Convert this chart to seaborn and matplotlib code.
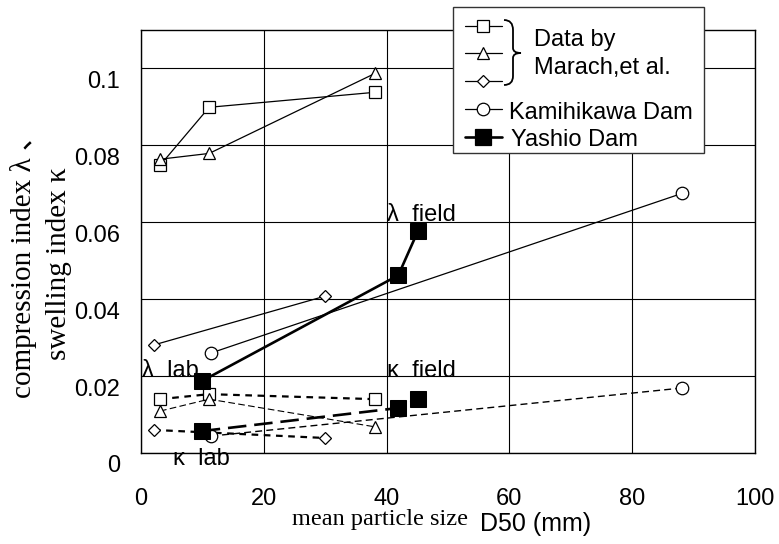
import numpy as np
import matplotlib
matplotlib.use('Agg')
import matplotlib.pyplot as plt
import matplotlib.transforms as mtransforms
from matplotlib.path import Path
from matplotlib.patches import PathPatch, Rectangle
from matplotlib.lines import Line2D
import seaborn as sns

# compression index (lambda) series
lam_sq_x = [3.1, 11.1, 38.1]
lam_sq_y = [0.0748, 0.0899, 0.0938]
lam_tri_x = [3.1, 11.1, 38.1]
lam_tri_y = [0.0764, 0.0779, 0.0987]
lam_dia_x = [2.1, 30.0]
lam_dia_y = [0.0281, 0.0408]
lam_kami_x = [11.4, 88.1]
lam_kami_y = [0.0260, 0.0675]
lam_yashio_x = [9.9, 41.9, 45.1]
lam_yashio_y = [0.0187, 0.0462, 0.0577]

# swelling index (kappa) series
kap_sq_x = [3.1, 11.1, 38.1]
kap_sq_y = [0.0140, 0.0153, 0.0140]
kap_tri_x = [3.1, 11.1, 38.1]
kap_tri_y = [0.0109, 0.0140, 0.0068]
kap_dia_x = [2.1, 30.0]
kap_dia_y = [0.0060, 0.0039]
kap_kami_x = [11.4, 88.1]
kap_kami_y = [0.0044, 0.0169]
kap_yashio_x = [9.9, 41.9, 45.1]
kap_yashio_y = [0.0057, 0.0117, 0.0140]

x_ticks = [0, 20, 40, 60, 80, 100]
y_ticks = [0, 0.02, 0.04, 0.06, 0.08, 0.1]
y_tick_labels = ['0', '0.02', '0.04', '0.06', '0.08', '0.1']

sns.set_style('white')
plt.rcParams['font.family'] = ['Liberation Sans', 'DejaVu Sans']
plt.rcParams['text.color'] = 'black'

fig = plt.figure(figsize=(7.79, 5.44), dpi=100)
ax = fig.add_axes([141 / 779, 1 - 453 / 544, 614 / 779, 423 / 544])

open_kw = dict(color='black', mfc='white', mec='black', mew=0.9, ax=ax)

# lambda - solid lines
sns.lineplot(x=lam_sq_x, y=lam_sq_y, marker='s', ms=9, lw=0.9, **open_kw)
sns.lineplot(x=lam_tri_x, y=lam_tri_y, marker='^', ms=9, lw=0.9, **open_kw)
sns.lineplot(x=lam_dia_x, y=lam_dia_y, marker='D', ms=6.5, lw=0.9, **open_kw)
sns.lineplot(x=lam_kami_x, y=lam_kami_y, marker='o', ms=9, lw=0.9, **open_kw)
sns.lineplot(x=lam_yashio_x, y=lam_yashio_y, marker='s', ms=12, lw=1.9,
             color='black', mfc='black', mec='black', ax=ax, zorder=5)

# kappa - dashed lines
sns.lineplot(x=kap_sq_x, y=kap_sq_y, marker='s', ms=9, lw=1.6,
             linestyle=(0, (3, 2.5)), **open_kw)
sns.lineplot(x=kap_tri_x, y=kap_tri_y, marker='^', ms=9, lw=0.8,
             linestyle=(0, (6, 3)), **open_kw)
sns.lineplot(x=kap_dia_x, y=kap_dia_y, marker='D', ms=6.5, lw=1.6,
             linestyle=(0, (3, 2.5)), **open_kw)
sns.lineplot(x=kap_kami_x, y=kap_kami_y, marker='o', ms=9, lw=1.0,
             linestyle=(0, (5, 3)), **open_kw)
sns.lineplot(x=kap_yashio_x, y=kap_yashio_y, marker='s', ms=12, lw=1.9,
             linestyle=(0, (7, 3)), color='black', mfc='black', mec='black',
             ax=ax, zorder=5)

ax.set_xlim(0, 100)
ax.set_ylim(0, 0.11)
ax.set_xticks(x_ticks)
ax.set_yticks(y_ticks)
ax.set_yticklabels(y_tick_labels)
ax.set_xlabel('')
ax.set_ylabel('')
ax.grid(True, color='black', lw=0.8)
for sp in ax.spines.values():
    sp.set_color('black')
    sp.set_linewidth(1.0)
ax.tick_params(axis='both', length=0, labelsize=17, labelcolor='black')
ax.tick_params(axis='x', pad=25)
ax.tick_params(axis='y', pad=15)
shift = mtransforms.ScaledTranslation(0, -0.11, fig.dpi_scale_trans)
for lab in ax.get_yticklabels():
    lab.set_transform(lab.get_transform() + shift)

# annotations
ax.text(40.0, 0.0604, 'λ  field', fontsize=17, clip_on=False)
ax.text(40.0, 0.0198, 'κ  field', fontsize=17, clip_on=False)
ax.text(0.2, 0.0198, 'λ  lab', fontsize=17, clip_on=False)
ax.text(5.2, -0.0031, 'κ  lab', fontsize=17, clip_on=False, va='baseline')

# axis titles (serif + sans mix)
fig.text(292 / 779, 1 - 520 / 544, 'mean particle size', family='Liberation Serif',
         fontsize=17.5, va='center', ha='left')
fig.text(480 / 779, 1 - 524 / 544, 'D50 (mm)', fontsize=18, va='center', ha='left')
fig.text(24 / 779, 1 - 259 / 544, 'compression index λ 、', rotation=90,
         family=['Liberation Serif', 'Noto Sans CJK JP'], fontsize=21,
         va='center', ha='center')
fig.text(59 / 779, 1 - 264 / 544, 'swelling index κ', rotation=90,
         family='Liberation Serif', fontsize=21, va='center', ha='center')

# legend drawn on an overlay in pixel coords
ov = fig.add_axes([0, 0, 1, 1], zorder=10)
ov.set_xlim(0, 779)
ov.set_ylim(544, 0)
ov.axis('off')
ov.add_patch(Rectangle((453, 7), 251, 146, facecolor='white', edgecolor='#333333', lw=1.0))
leg_rows = [(26, 's', 9, 'white', 0.9), (53, '^', 9, 'white', 0.9),
            (81, 'D', 6.5, 'white', 0.9), (109, 'o', 9, 'white', 0.9),
            (137, 's', 12, 'black', 1.9)]
for yy, mk, ms, fc, lw in leg_rows:
    ov.add_line(Line2D([465, 502], [yy, yy], color='black', lw=lw))
    ov.add_line(Line2D([483], [yy], marker=mk, ms=ms, mfc=fc, mec='black',
                       mew=0.9, ls='none'))
verts = [(504, 20), (513, 20), (513, 30), (513, 48), (513, 53), (521, 53),
         (513, 53), (513, 58), (513, 76), (513, 85), (504, 85)]
codes = [Path.MOVETO, Path.CURVE3, Path.CURVE3, Path.LINETO, Path.CURVE3, Path.CURVE3,
         Path.CURVE3, Path.CURVE3, Path.LINETO, Path.CURVE3, Path.CURVE3]
ov.add_patch(PathPatch(Path(verts, codes), facecolor='none', edgecolor='black', lw=1.3))
ov.text(534, 40, 'Data by', fontsize=17, va='center')
ov.text(534, 68, 'Marach,et al.', fontsize=17, va='center')
ov.text(509, 113, 'Kamihikawa Dam', fontsize=17, va='center')
ov.text(511, 140, 'Yashio Dam', fontsize=17, va='center')

fig.savefig('out.png', dpi=100)
